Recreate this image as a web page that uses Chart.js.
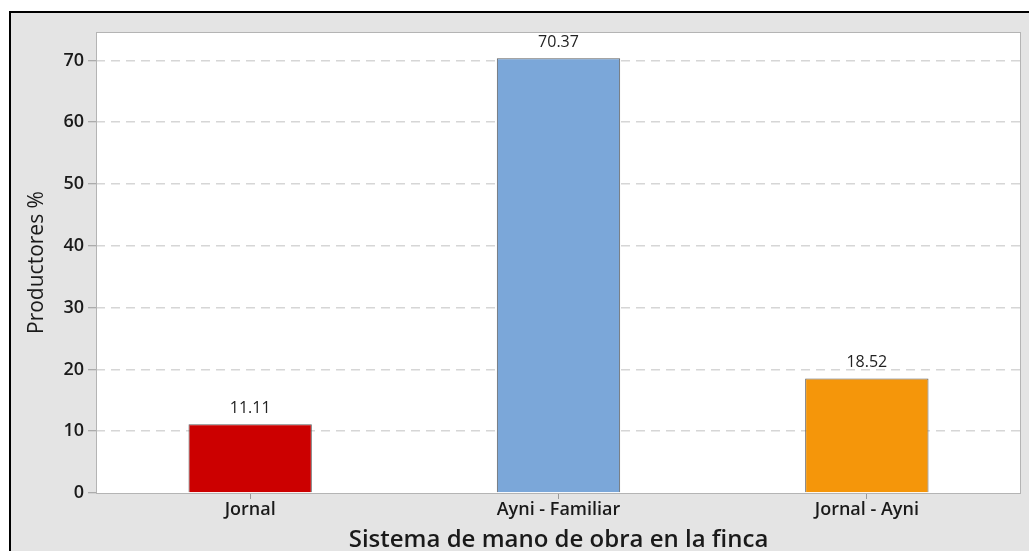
<!DOCTYPE html>
<html>
<head>
<meta charset="utf-8">
<script src="https://cdn.jsdelivr.net/npm/chart.js@4"></script>
<style>
  html, body { margin: 0; padding: 0; background: #fff; }
  #frame {
    position: absolute; left: 9px; top: 11px;
    width: 1018px; height: 538px;
    border-left: 2px solid #000; border-top: 2px solid #000;
    background: #e4e4e4;
  }
  #chart { display: block; }
</style>
</head>
<body>
<div id="frame"><canvas id="chart" width="1018" height="538"></canvas></div>
<script>
const categories = ["Jornal", "Ayni - Familiar", "Jornal - Ayni"];
const percentValues = [11.11, 70.37, 18.52];
const barColors = ["#cc0000", "#7ba7d9", "#f5960a"];
const yTicks = [0, 10, 20, 30, 40, 50, 60, 70];

// white plot area + grey frame around it
const plotBackground = {
    id: "plotBackground",
    beforeDraw(chart) {
        const { ctx, chartArea: a } = chart;
        ctx.save();
        ctx.fillStyle = "#ffffff";
        ctx.fillRect(a.left, a.top, a.right - a.left, a.bottom - a.top);
        ctx.restore();
    },
    afterDraw(chart) {
        const { ctx, chartArea: a } = chart;
        ctx.save();
        ctx.strokeStyle = "#b4b4b4";
        ctx.lineWidth = 1;
        ctx.strokeRect(a.left + 0.5, a.top + 0.5, a.right - a.left - 1, a.bottom - a.top);
        ctx.restore();
    }
};

// value labels above each bar
const valueLabels = {
    id: "valueLabels",
    afterDatasetsDraw(chart) {
        const { ctx } = chart;
        const meta = chart.getDatasetMeta(0);
        ctx.save();
        ctx.font = "16px 'Open Sans'";
        ctx.fillStyle = "#222";
        ctx.textAlign = "center";
        ctx.textBaseline = "bottom";
        meta.data.forEach((bar, i) => {
            ctx.fillText(percentValues[i].toFixed(2), bar.x, bar.y - 8);
        });
        ctx.restore();
    }
};

new Chart(document.getElementById("chart"), {
    type: "bar",
    data: {
        labels: categories,
        datasets: [{
            data: percentValues,
            backgroundColor: barColors,
            borderColor: "#5e5e5e",
            borderWidth: 1,
            barPercentage: 0.4,
            categoryPercentage: 1
        }]
    },
    options: {
        responsive: false,
        animation: false,
        layout: { padding: { top: 19, right: 8, left: 0, bottom: 0 } },
        plugins: {
            legend: { display: false },
            tooltip: { enabled: false }
        },
        scales: {
            x: {
                offset: true,
                grid: {
                    offset: false,
                    drawOnChartArea: false,
                    drawTicks: true,
                    tickLength: 6,
                    tickColor: "#9a9a9a"
                },
                border: { display: false },
                ticks: {
                    color: "#1a1a1a",
                    font: { family: "'Open Sans'", size: 18, weight: "600" },
                    padding: 0
                },
                title: {
                    display: true,
                    text: "Sistema de mano de obra en la finca",
                    color: "#1a1a1a",
                    font: { family: "'Open Sans'", size: 24, weight: "600", lineHeight: 0.9 },
                    padding: { top: 0, bottom: 0 }
                },
                afterFit(scale) { scale.height = 58; }
            },
            y: {
                min: 0,
                max: 74.6,
                afterBuildTicks(scale) { scale.ticks = yTicks.map(v => ({ value: v })); },
                grid: {
                    color: (c) => (c.tick && c.tick.value === 0 ? "rgba(0,0,0,0)" : "#d6d6d6"),
                    lineWidth: 1.5,
                    tickColor: "#9a9a9a",
                    tickWidth: 1,
                    tickLength: 8,
                    tickBorderDash: []
                },
                border: { display: false, dash: [9, 6] },
                ticks: {
                    color: "#1a1a1a",
                    font: { family: "'Open Sans'", size: 18, weight: "600" },
                    padding: 4
                },
                title: {
                    display: true,
                    text: "Productores %",
                    color: "#1a1a1a",
                    font: { family: "'Open Sans'", size: 21 },
                    padding: { top: 13, bottom: 0 }
                },
                afterFit(scale) { scale.width = 85; }
            }
        }
    },
    plugins: [plotBackground, valueLabels]
});
</script>
</body>
</html>
